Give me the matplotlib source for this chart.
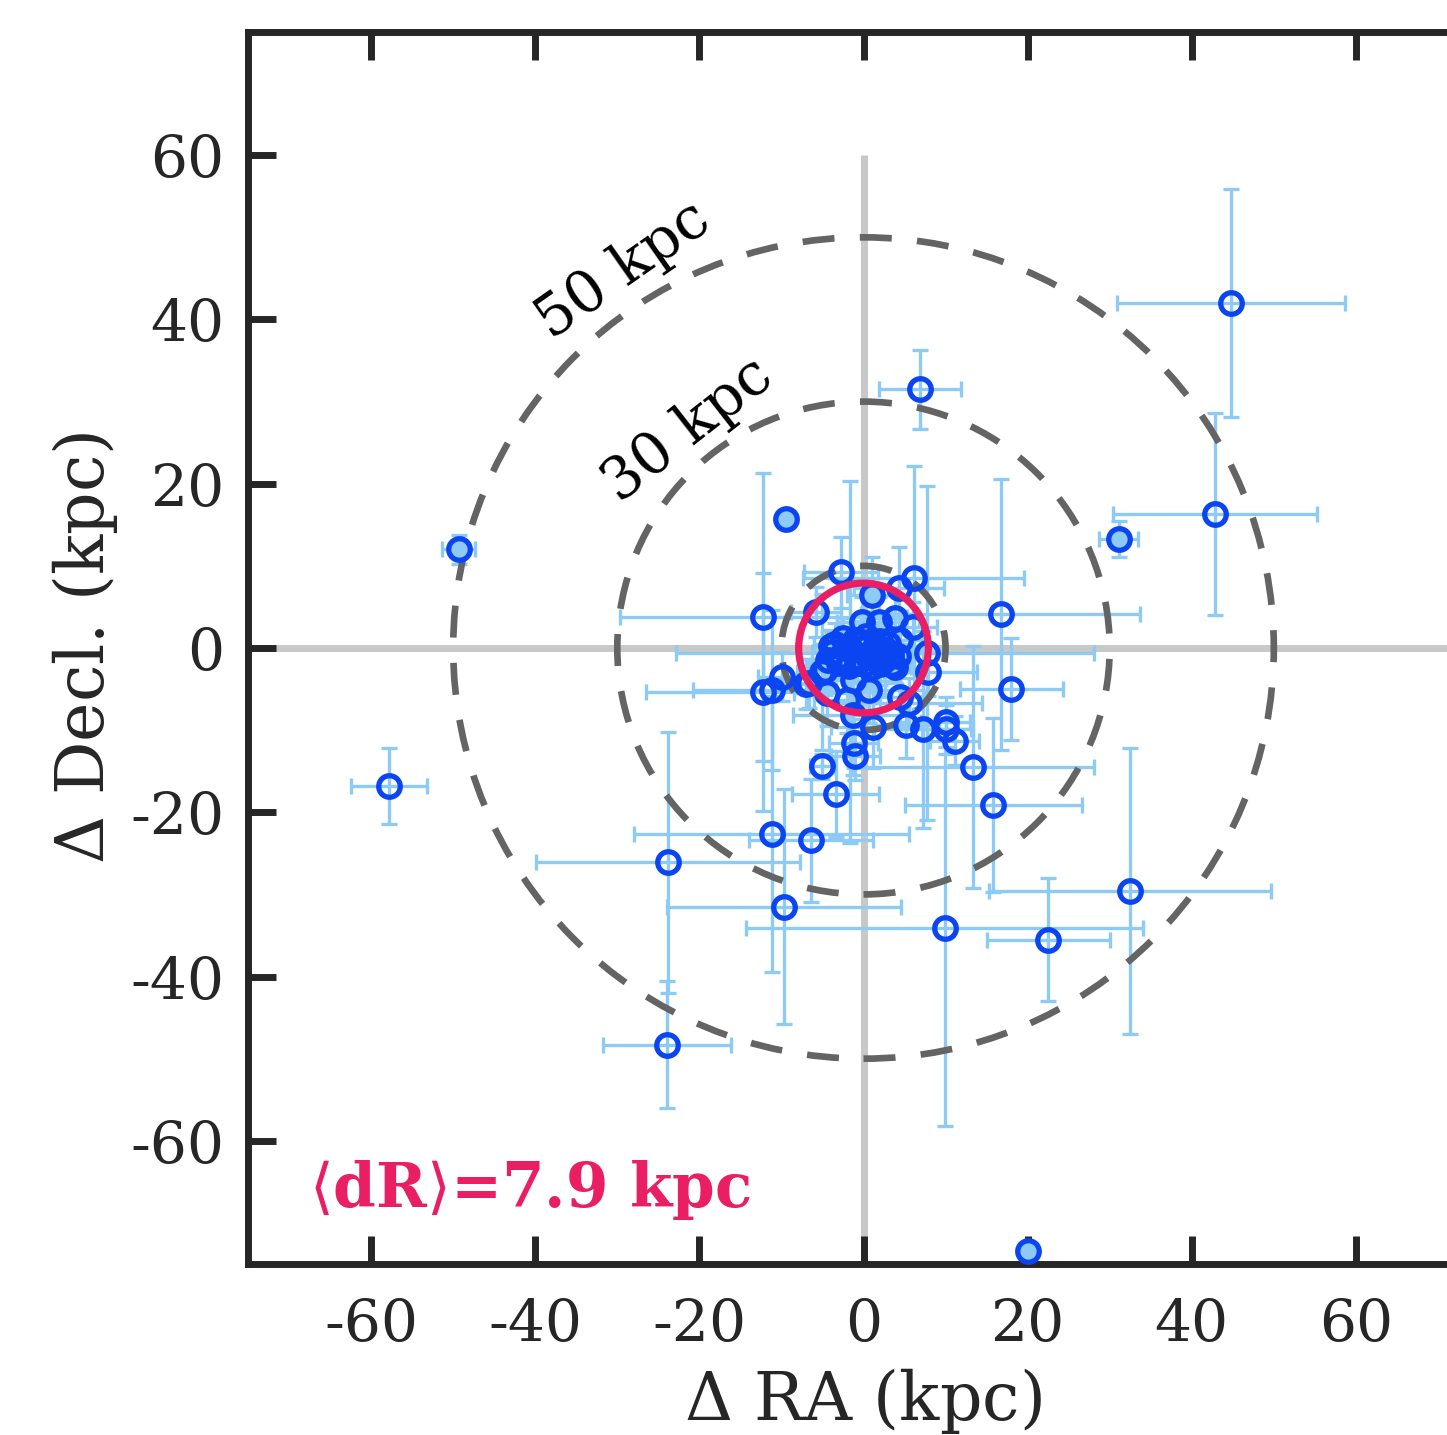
import numpy as np
import matplotlib
matplotlib.use("Agg")
import matplotlib.pyplot as plt
from matplotlib.patches import Circle

# ---- data (kpc) ----
ra = [44.8, 6.9, 42.8, 31.1, -49.3, -57.8, -9.4, 16.7, 18.0, 13.4,
      15.8, -23.8, -23.9, -11.2, -6.4, -9.7, 9.9, 22.5, 32.5, 20.1,
      -3.4, -5.0, -1.2, -1.0, 1.1, -1.3, -2.0, -4.5, -5.1, -7.0,
      -9.9, -11.1, -12.3, -12.2, -5.8, -2.7, 1.0, 4.3, 6.1, 7.7,
      7.8, 4.4, 5.6, 5.2, 7.3, 10.0, 10.1, 11.1, 0.7, -0.2,
      1.9, 3.8, 6.0, 4.4, -4.7, -6.6, -1.3, 2.6, -1.6, -3.5,
      -2.5, -1.5, -0.5, 0.5, 1.5, 2.5, 3.3, -2.8, 0.0, 1.0,
      2.0, -3.8, 0.3, 3.0, 1.2, -0.8,
      -4.0, -3.0, -2.0, -1.0, 0.0, 1.0, 2.0, 3.5, 4.2, -0.5,
      1.8, 2.8, -1.8, 0.5, 3.8, -4.3]
dec = [42.0, 31.5, 16.3, 13.3, 12.0, -16.8, 15.7, 4.1, -5.0, -14.5,
       -19.1, -26.1, -48.3, -22.7, -23.4, -31.5, -34.1, -35.5, -29.6, -73.4,
       -17.8, -14.4, -11.6, -13.1, -9.6, -8.2, -6.3, -5.5, -2.9, -4.4,
       -3.5, -5.1, -5.4, 3.8, 4.4, 9.2, 6.5, 7.3, 8.5, -0.6,
       -2.9, -6.0, -6.7, -9.4, -9.9, -9.0, -9.9, -11.3, -5.1, 3.2,
       3.2, 3.6, 2.6, 1.0, -2.7, -4.3, -3.9, -0.6, -1.7, 0.5,
       1.2, -0.3, 0.8, -1.0, 0.2, -1.5, -0.8, -1.0, -2.0, -2.3,
       -2.0, -0.5, 1.5, 0.5, -1.2, -1.8,
       0.2, -1.8, 0.0, 1.0, 0.0, -0.5, 0.8, -2.0, -1.0, -1.2,
       -1.2, -0.2, -2.2, 0.5, -2.3, -1.5]
ra_err = [13.9, 5.0, 12.4, 2.4, 2.0, 4.6, 0.0, 17.0, 6.3, 14.7,
          10.8, 16.1, 7.8, 16.8, 7.5, 14.3, 24.2, 7.5, 17.2, 0.6,
          5.3, 1.5, 3.0, 3.0, 5.0, 7.3, 4.0, 4.0, 3.0, 3.0,
          3.0, 9.7, 14.2, 17.5, 3.0, 4.5, 3.0, 5.5, 13.5, 2.0,
          6.0, 3.0, 8.8, 4.0, 6.0, 3.0, 3.0, 3.0, 4.0, 3.0,
          3.0, 3.0, 3.0, 3.0, 3.0, 3.0, 3.0, 25.5, 3.0, 2.5,
          2.5, 2.5, 2.5, 2.5, 2.5, 2.5, 2.5, 2.5, 2.5, 2.5,
          2.5, 2.5, 2.5, 2.5, 2.5, 2.5,
          2.0, 2.0, 2.0, 2.0, 2.0, 2.0, 2.0, 2.0, 2.0, 2.0,
          2.0, 2.0, 2.0, 2.0, 2.0, 2.0]
dec_err = [13.9, 4.8, 12.3, 2.2, 1.8, 4.6, 0.0, 16.5, 6.2, 14.7,
           10.6, 15.9, 7.7, 16.8, 7.5, 14.3, 24.1, 7.5, 17.4, 0.6,
           5.2, 1.5, 3.0, 3.0, 5.0, 7.3, 4.0, 4.0, 9.5, 3.0,
           3.0, 9.7, 14.5, 17.5, 3.0, 4.3, 4.6, 5.0, 13.6, 20.3,
           3.0, 3.0, 3.0, 4.0, 12.0, 3.0, 3.0, 3.0, 4.0, 3.0,
           3.0, 3.0, 3.0, 3.0, 3.0, 3.0, 3.0, 5.0, 22.0, 2.5,
           2.5, 2.5, 2.5, 2.5, 2.5, 2.5, 2.5, 2.5, 2.5, 2.5,
           2.5, 2.5, 2.5, 2.5, 2.5, 2.5,
           2.0, 2.0, 2.0, 2.0, 2.0, 2.0, 2.0, 2.0, 2.0, 2.0,
           2.0, 2.0, 2.0, 2.0, 2.0, 2.0]
filled_idx = [3, 4, 6, 19, 36]

ring_radii = [10, 30, 50]
ring_labels = ["30 kpc", "50 kpc"]
mean_dR = 7.9
ticks = [-60, -40, -20, 0, 20, 40, 60]

# ---- style ----
plt.rcParams['font.family'] = ['DejaVu Serif']
plt.rcParams['mathtext.fontset'] = 'dejavuserif'
plt.rcParams['axes.unicode_minus'] = False
DARK = '#262626'
BLUE = '#0b45f2'
LBLUE = '#8dcbf6'
PINK = '#e91e63'

fig = plt.figure(figsize=(14.47, 14.35), dpi=100)
ax = fig.add_axes([248/1447, (1435-1264)/1435, (1479-248)/1447, 1232/1435])
ax.set_xlim(-75, 75)
ax.set_ylim(-75, 75)

# grey centre lines
ax.plot([-75, 75], [0, 0], color='#c8c8c8', lw=5, zorder=1, solid_capstyle='butt')
ax.plot([0, 0], [-75, 60], color='#c8c8c8', lw=5, zorder=1, solid_capstyle='butt')

# error bars
ra_a = np.array(ra); dec_a = np.array(dec)
ax.errorbar(ra_a, dec_a, xerr=ra_err, yerr=dec_err, fmt='none', ecolor=LBLUE,
            elinewidth=2.4, capsize=5.5, capthick=2.4, zorder=2)

# dashed rings
for r in ring_radii:
    c = Circle((0, 0), r, fill=False, ec='#646464', lw=4.8, ls=(0, (4.8, 3.8)), zorder=3)
    ax.add_patch(c)

# markers
fc = ['none'] * len(ra)
for i in filled_idx:
    fc[i] = LBLUE
for i in range(len(ra)):
    ax.plot(ra[i], dec[i], 'o', ms=15.5, mew=3.8, mec=BLUE, mfc=fc[i], zorder=4)

# red mean ring
ax.add_patch(Circle((0, 0), mean_dR, fill=False, ec=PINK, lw=5.2, zorder=5))

# labels on rings
ax.text(-29.3, 46.0, ring_labels[1], fontsize=42, rotation=35, ha='center', va='center', color='black')
ax.text(-21.4, 26.6, ring_labels[0], fontsize=42, rotation=38, ha='center', va='center', color='black')

ax.text(-67.6, -68.0, r'$\langle$dR$\rangle$=' + f'{mean_dR} kpc', fontsize=44, fontweight='bold',
        color=PINK, ha='left', va='baseline')

ax.set_xticks(ticks)
ax.set_yticks(ticks)
ax.tick_params(direction='in', length=20, width=5, color=DARK, labelsize=42,
               labelcolor=DARK, top=True, right=True)
ax.tick_params(axis='x', pad=24)
ax.tick_params(axis='y', pad=17)
for s in ax.spines.values():
    s.set_linewidth(5)
    s.set_color(DARK)
ax.set_xlabel(r'$\Delta$ RA (kpc)', fontsize=48, color=DARK)
ax.set_ylabel(r'$\Delta$ Decl. (kpc)', fontsize=48, color=DARK)
ax.xaxis.set_label_coords(0.4995, -0.083)
ax.yaxis.set_label_coords(-0.104, 0.5)

fig.savefig('out.png', dpi=100)
